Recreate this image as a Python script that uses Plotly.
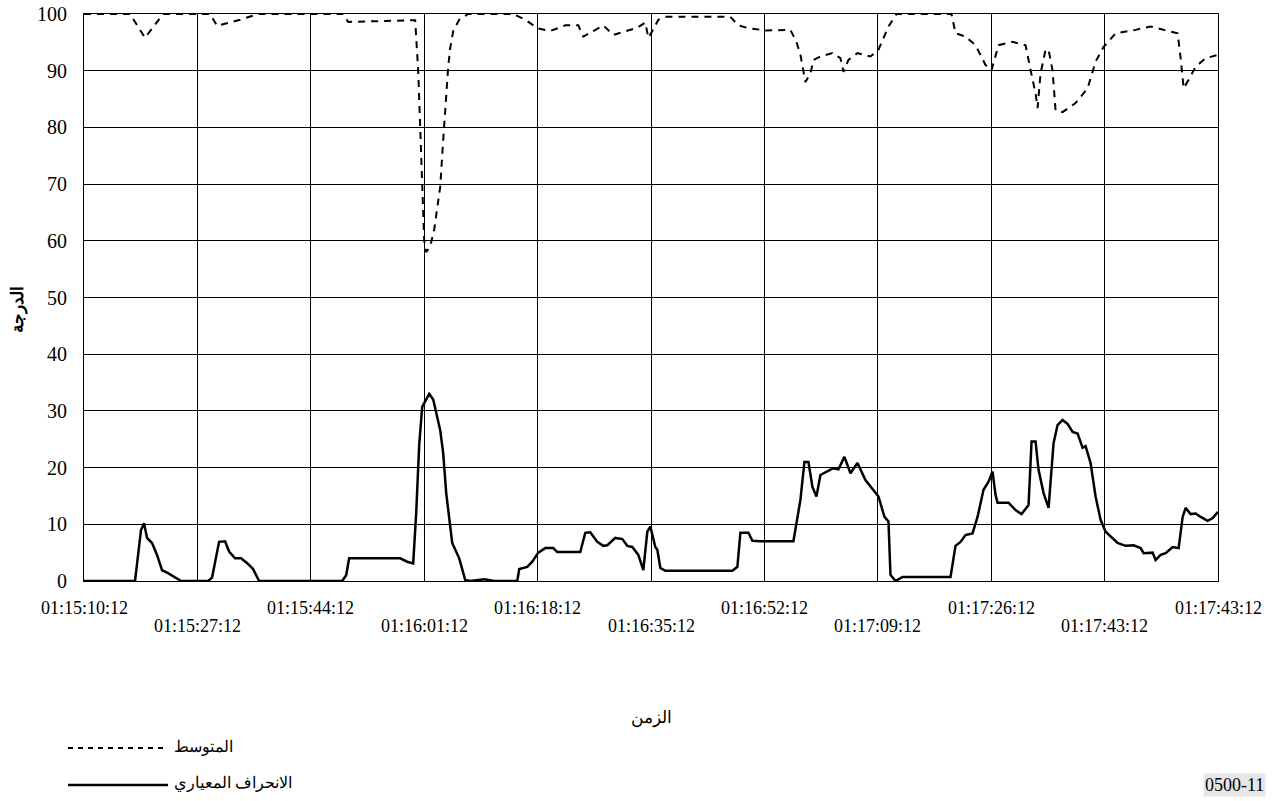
import plotly.graph_objects as go

# time axis in seconds from 01:15:10:12
mean_t = [0, 6.9, 9.15, 11.85, 18.9, 19.95, 23.4, 26.1, 38.85, 39.6, 49.65, 50.1, 50.4, 50.7, 51.0, 51.3,
          51.9, 52.5, 53.4, 53.85, 54.3, 54.6, 54.9, 55.35, 56.25, 57.6, 64.35, 66.15, 67.95, 69.9, 72.15,
          74.1, 74.85, 76.65, 77.85, 79.35, 81.15, 82.95, 84.15, 84.6, 85.2, 86.1, 87.15, 96.9, 98.1, 99.6,
          102.15, 105.9, 106.8, 107.4, 108.15, 108.9, 109.35, 110.4, 112.2, 113.4, 113.85, 114.6, 115.95,
          117.9, 119.1, 120.6, 121.8, 130.05, 130.65, 132.15, 133.65, 135.15, 136.05, 137.1, 139.2, 141.15,
          141.9, 142.65, 142.95, 143.4, 144.15, 144.6, 145.2, 145.65, 146.7, 148.65, 150.45, 151.65, 152.85,
          154.65, 157.65, 159.9, 162.15, 163.95, 164.4, 164.85, 165.6, 166.65, 168.15, 170]
mean_v = [100, 100, 95.8, 100, 100, 97.9, 99, 100, 100, 98.6, 98.9, 90, 80, 70, 60, 58,
          59, 62, 69.5, 77.8, 86, 90.7, 94, 97, 99, 100, 100, 99, 97.5, 97, 98,
          98, 96, 97.2, 98, 96.3, 96.9, 97.6, 98.5, 95.8, 97, 99, 99.5, 99.5, 98, 97.5,
          97.1, 97.2, 95.1, 92.8, 88, 89.5, 91.9, 92.5, 93.1, 92.2, 89.8, 91.9, 93.1,
          92.5, 93.7, 97.8, 100, 100, 96.6, 96, 94.5, 91, 90.1, 94.5, 95.1, 94.5,
          90.1, 86, 83.4, 89.5, 93.7, 93.7, 90, 83, 82.7, 84.3, 86.9, 91.6, 94.2,
          96.6, 97.2, 97.8, 97.1, 96.6, 92.2, 86.9, 88.4, 90.7, 92.2, 92.8]

std_t = [0, 7.65, 8.55, 9.0, 9.45, 10.2, 10.95, 11.7, 12.6, 13.65, 14.55, 18.6, 19.2, 20.25, 21.15, 21.75,
         22.65, 23.55, 24.6, 25.35, 26.25, 38.7, 39.3, 39.75, 47.4, 48.45, 49.35, 49.8, 50.25, 50.7, 51.75,
         52.35, 53.4, 53.85, 54.3, 55.2, 56.25, 57.15, 57.9, 60.0, 61.5, 64.95, 65.25, 66.45, 67.2, 68.1,
         69.15, 70.35, 70.95, 74.4, 75.15, 75.9, 76.95, 77.85, 78.45, 79.65, 80.7, 81.45, 82.2, 83.1, 83.85,
         84.45, 84.9, 85.65, 85.95, 86.4, 87.15, 97.2, 97.95, 98.4, 99.6, 100.2, 101.4, 106.35, 107.4, 108.0,
         108.6, 109.2, 109.8, 110.4, 111.3, 112.35, 113.1, 114.0, 114.9, 115.95, 117.15, 118.35, 119.1, 120.0,
         120.6, 120.9, 121.65, 122.7, 129.9, 130.65, 131.4, 132.15, 133.2, 133.95, 134.85, 135.6, 136.2,
         136.65, 136.95, 138.6, 139.65, 140.55, 141.6, 142.05, 142.65, 143.1, 143.85, 144.6, 145.35, 145.95,
         146.7, 147.45, 148.2, 148.95, 149.7, 150.15, 150.9, 151.65, 152.4, 153.15, 154.2, 154.95, 156.15,
         157.35, 158.4, 158.85, 160.2, 160.65, 161.4, 162.15, 163.2, 164.1, 164.7, 165.15, 165.9, 166.65,
         167.4, 168.45, 169.2, 170]
std_v = [0, 0, 9, 10.2, 7.6, 6.7, 4.6, 1.9, 1.4, 0.7, 0, 0, 0.6, 6.9, 7, 5.2,
         4, 4, 3, 2.1, 0, 0, 1, 4, 4, 3.4, 3.1, 12, 24, 30.7, 33,
         32, 26.6, 22.5, 15.5, 6.7, 4, 0.2, 0, 0.3, 0, 0, 2.1, 2.5, 3.4, 5,
         5.8, 5.8, 5.1, 5.1, 8.5, 8.6, 6.9, 6.2, 6.3, 7.6, 7.4, 6.2, 6, 4.6, 1.9,
         8.7, 9.6, 6, 5.5, 2.3, 1.8, 1.8, 2.5, 8.5, 8.5, 7.1, 7, 7, 14.3, 21,
         21, 16.6, 14.9, 18.7, 19.3, 19.9, 19.7, 21.9, 19, 20.8, 17.8, 16.1, 14.9, 11.3,
         10.5, 1.1, 0, 0.7, 0.7, 6.2, 6.9, 8.1, 8.4, 11.3, 16.1, 17.5, 19.3,
         15.2, 13.8, 13.8, 12.5, 11.8, 13.4, 24.6, 24.6, 19.6, 15.5, 12.9, 24.3, 27.5,
         28.4, 27.7, 26.3, 26, 23.5, 23.8, 20.8, 14.9, 10.8, 8.7, 7.6, 6.7, 6.2,
         6.3, 5.8, 4.9, 5, 3.7, 4.6, 4.9, 6, 5.8, 11.3, 12.9, 11.8, 11.9,
         11.3, 10.6, 11.1, 12.2]

tick_vals = [0, 17, 34, 51, 68, 85, 102, 119, 136, 153, 170]
tick_labels = ["01:15:10:12", "01:15:27:12", "01:15:44:12", "01:16:01:12", "01:16:18:12",
               "01:16:35:12", "01:16:52:12", "01:17:09:12", "01:17:26:12", "01:17:43:12", "01:17:43:12"]
y_ticks = [0, 10, 20, 30, 40, 50, 60, 70, 80, 90, 100]

series_names = ["المتوسط", "الانحراف المعياري"]
y_title = "الدرجة"
x_title = "الزمن"
fig_code = "0500-11"

SERIF = "Liberation Serif, Times New Roman, DejaVu Serif, serif"

fig = go.Figure()
fig.add_trace(go.Scatter(x=mean_t, y=mean_v, mode="lines", name=series_names[0],
                         line=dict(color="black", width=2, dash="7px,6px")))
fig.add_trace(go.Scatter(x=std_t, y=std_v, mode="lines", name=series_names[1],
                         line=dict(color="black", width=2.5)))

L, R, T, B = 84, 62, 14, 220
W, H = 1280, 801
pw = W - L - R
ph = H - T - B

annotations = []
for i, (v, lab) in enumerate(zip(tick_vals, tick_labels)):
    annotations.append(dict(x=v, xref="x", y=-(27 if i % 2 == 0 else 45) / ph, yref="paper",
                            text=lab, showarrow=False, xanchor="center", yanchor="middle",
                            font=dict(family=SERIF, size=18, color="black")))

annotations.append(dict(x=0.5, xref="paper", y=-(718 - 581) / ph, yref="paper", text=x_title,
                        showarrow=False, xanchor="center", yanchor="middle",
                        font=dict(family=SERIF, size=17, color="black")))
annotations.append(dict(x=-(84 - 18) / pw, xref="paper", y=(581 - 310) / ph, yref="paper",
                        text="<b>" + y_title + "</b>",
                        showarrow=False, textangle=-90, xanchor="center", yanchor="middle",
                        font=dict(family=SERIF, size=17, color="black")))
# legend texts
annotations.append(dict(x=(172 - 84) / pw, xref="paper", y=-(747 - 581) / ph, yref="paper",
                        text=series_names[0], showarrow=False, xanchor="left", yanchor="middle",
                        font=dict(family=SERIF, size=16, color="black")))
annotations.append(dict(x=(172 - 84) / pw, xref="paper", y=-(783 - 581) / ph, yref="paper",
                        text=series_names[1], showarrow=False, xanchor="left", yanchor="middle",
                        font=dict(family=SERIF, size=16, color="black")))
annotations.append(dict(x=(1266 - 84) / pw, xref="paper", y=-(785 - 581) / ph, yref="paper",
                        text=fig_code, showarrow=False, xanchor="right", yanchor="middle",
                        bgcolor="#e6e6e6", borderpad=1,
                        font=dict(family=SERIF, size=18, color="black")))

shapes = [
    dict(type="line", xref="paper", yref="paper", x0=(68 - 84) / pw, x1=(168 - 84) / pw,
         y0=-(748 - 581) / ph, y1=-(748 - 581) / ph, line=dict(color="black", width=2, dash="5px,5px")),
    dict(type="line", xref="paper", yref="paper", x0=(68 - 84) / pw, x1=(168 - 84) / pw,
         y0=-(785 - 581) / ph, y1=-(785 - 581) / ph, line=dict(color="black", width=2.5)),
]

fig.update_layout(
    width=W, height=H,
    margin=dict(l=L, r=R, t=T, b=B, autoexpand=False),
    paper_bgcolor="white", plot_bgcolor="white",
    showlegend=False,
    annotations=annotations,
    shapes=shapes,
    xaxis=dict(range=[0, 170], tickvals=tick_vals, showticklabels=False, ticks="",
               showgrid=True, gridcolor="black", gridwidth=1, zeroline=False,
               showline=True, linecolor="black", linewidth=1, mirror=True),
    yaxis=dict(range=[0, 100], tickvals=y_ticks, ticks="", ticklabelstandoff=12,
               tickfont=dict(family=SERIF, size=20, color="black"),
               showgrid=True, gridcolor="black", gridwidth=1, zeroline=False,
               showline=True, linecolor="black", linewidth=1, mirror=True),
)

fig.write_html("out.html", config={"displayModeBar": False},
               post_script="document.body.style.margin='0';document.body.style.overflow='hidden';")
